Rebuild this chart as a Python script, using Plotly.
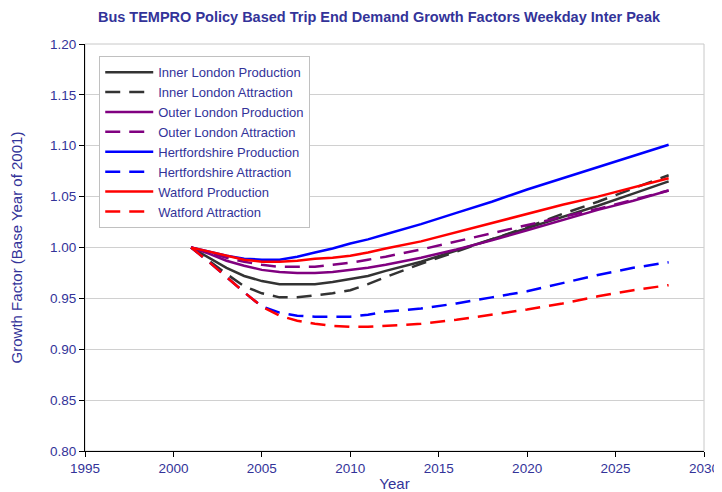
import plotly.graph_objects as go

years = [2001, 2002, 2003, 2004, 2005, 2006, 2007, 2008, 2009, 2010, 2011, 2012,
         2014, 2016, 2018, 2020, 2022, 2024, 2026, 2028]

inner_prod = [1.000, 0.990, 0.980, 0.972, 0.967, 0.964, 0.964, 0.964, 0.966, 0.969, 0.972, 0.977,
              0.986, 0.997, 1.008, 1.019, 1.030, 1.041, 1.053, 1.065]
inner_attr = [1.000, 0.987, 0.974, 0.962, 0.955, 0.951, 0.951, 0.953, 0.955, 0.958, 0.964, 0.971,
              0.984, 0.996, 1.008, 1.020, 1.033, 1.045, 1.058, 1.071]
outer_prod = [1.000, 0.994, 0.987, 0.982, 0.978, 0.976, 0.975, 0.975, 0.976, 0.978, 0.980, 0.983,
              0.990, 0.998, 1.007, 1.017, 1.027, 1.037, 1.046, 1.056]
outer_attr = [1.000, 0.995, 0.990, 0.986, 0.983, 0.981, 0.981, 0.981, 0.983, 0.985, 0.988, 0.991,
              0.998, 1.006, 1.014, 1.022, 1.030, 1.038, 1.047, 1.056]
herts_prod = [1.000, 0.996, 0.992, 0.989, 0.988, 0.988, 0.991, 0.995, 0.999, 1.004, 1.008, 1.013,
              1.023, 1.034, 1.045, 1.057, 1.068, 1.079, 1.090, 1.101]
herts_attr = [1.000, 0.986, 0.971, 0.956, 0.942, 0.936, 0.933, 0.932, 0.932, 0.932, 0.934, 0.937,
              0.940, 0.945, 0.951, 0.957, 0.965, 0.973, 0.980, 0.9855]
watford_prod = [1.000, 0.996, 0.992, 0.988, 0.986, 0.986, 0.987, 0.989, 0.990, 0.992, 0.995, 0.999,
                1.006, 1.015, 1.024, 1.033, 1.042, 1.050, 1.059, 1.068]
watford_attr = [1.000, 0.986, 0.971, 0.956, 0.942, 0.933, 0.928, 0.925, 0.923, 0.922, 0.922, 0.923,
                0.925, 0.929, 0.934, 0.939, 0.945, 0.952, 0.958, 0.963]

series = [
    ("Inner London Production", inner_prod, "#333333", "solid"),
    ("Inner London Attraction", inner_attr, "#333333", "15px,9px"),
    ("Outer London Production", outer_prod, "#800080", "solid"),
    ("Outer London Attraction", outer_attr, "#800080", "15px,9px"),
    ("Hertfordshire Production", herts_prod, "#0000FF", "solid"),
    ("Hertfordshire Attraction", herts_attr, "#0000FF", "15px,9px"),
    ("Watford Production", watford_prod, "#FF0000", "solid"),
    ("Watford Attraction", watford_attr, "#FF0000", "15px,9px"),
]

txt = "#333399"
font_family = "Liberation Sans, Arial, sans-serif"

# page body has an 8px margin, so the figure is 714x484 placed at (8, 8)
W, H = 714, 484

fig = go.Figure()
for name, vals, color, dash in series:
    fig.add_trace(go.Scatter(x=years, y=vals, name=name, mode="lines",
                             line=dict(color=color, width=2.5, dash=dash)))

fig.update_layout(
    width=W, height=H,
    margin=dict(l=77, r=18, t=36, b=41, autoexpand=False),
    paper_bgcolor="white", plot_bgcolor="white",
    font=dict(family=font_family, size=13.5, color=txt),
    title=dict(text="<b>Bus TEMPRO Policy Based Trip End Demand Growth Factors Weekday Inter Peak</b>",
               x=371 / W, xref="container", xanchor="center",
               y=1 - 9 / H, yref="container", yanchor="middle",
               font=dict(size=14.5, color=txt, family=font_family)),
    showlegend=True,
    legend=dict(x=0.023, y=0.97, xanchor="left", yanchor="top",
                bgcolor="white", bordercolor="#c0c0c0", borderwidth=1,
                font=dict(size=13, color=txt, family=font_family),
                tracegroupgap=0, itemwidth=48),
)

fig.update_xaxes(range=[1995, 2030], dtick=5, tick0=1995, showgrid=False,
                 showline=True, linecolor="black", linewidth=1,
                 ticks="outside", ticklen=5, tickcolor="black", automargin=False,
                 title=dict(text="Year", standoff=3, font=dict(size=15, color=txt)),
                 zeroline=False)
fig.update_yaxes(range=[0.8, 1.2], dtick=0.05, tick0=0.8, tickformat=".2f",
                 showgrid=True, gridcolor="#d0d0d0", gridwidth=1,
                 showline=True, linecolor="black", linewidth=1,
                 ticks="outside", ticklen=5, tickcolor="black", automargin=False,
                 title=dict(text="Growth Factor (Base Year of 2001)", standoff=24,
                            font=dict(size=15, color=txt)),
                 zeroline=False)

fig.add_shape(type="rect", xref="paper", yref="paper", x0=0, y0=0, x1=1, y1=1,
              line=dict(color="#c8c8c8", width=1), layer="below")

fig.write_html("out.html")
